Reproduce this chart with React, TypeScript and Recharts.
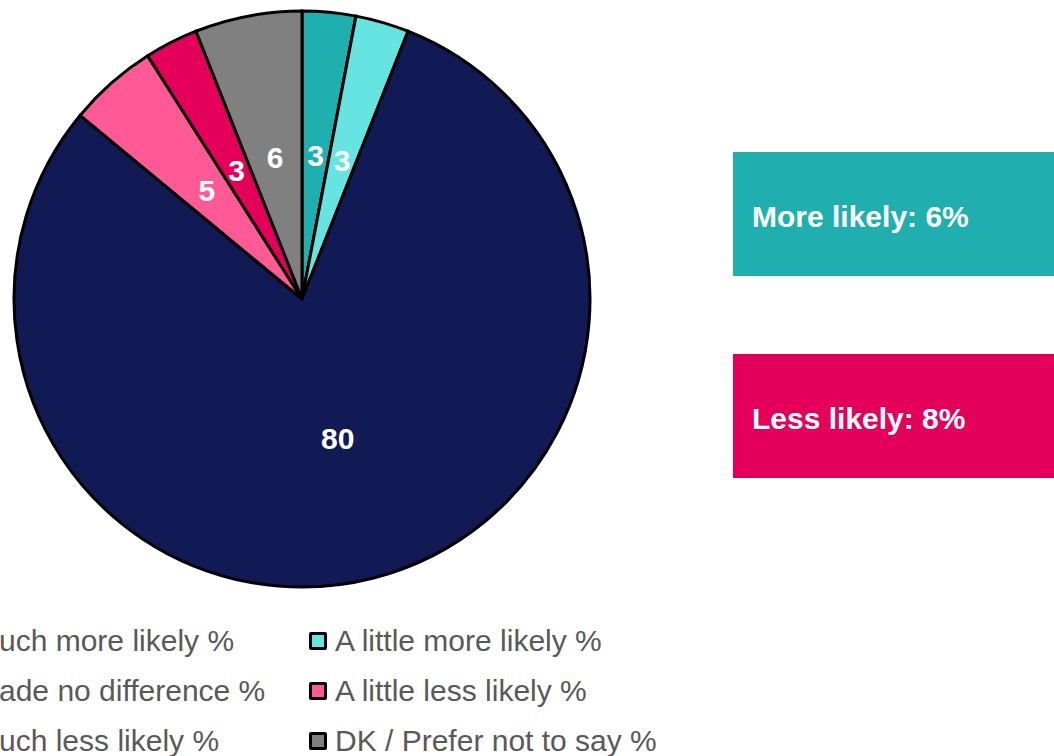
import { Cell, Legend, Pie, PieChart } from 'recharts'

const CATEGORIES = [
  'Much more likely %',
  'A little more likely %',
  'Made no difference %',
  'A little less likely %',
  'Much less likely %',
  'DK / Prefer not to say %',
]
const VALUES = [3, 3, 80, 5, 3, 6]
const COLORS = ['#1FAFAE', '#65E4E2', '#121A56', '#FF5A96', '#E4005A', '#808080']

const SUMMARY_LABELS = ['More likely: 6%', 'Less likely: 8%']
const SUMMARY_COLORS = ['#1FAFAE', '#E4005A']

const data = CATEGORIES.map((name, i) => ({ name, value: VALUES[i] }))

const FONT = '"Liberation Sans", Arial, sans-serif'
const RADIAN = Math.PI / 180

function SliceLabel(props: any) {
  const { cx, cy, midAngle, outerRadius, value } = props
  const r = outerRadius * 0.5
  const x = cx + r * Math.cos(-midAngle * RADIAN)
  const y = cy + r * Math.sin(-midAngle * RADIAN)
  return (
    <text
      x={x}
      y={y}
      fill="#fff"
      textAnchor="middle"
      dominantBaseline="central"
      fontFamily={FONT}
      fontWeight="bold"
      fontSize={30}
    >
      {value}
    </text>
  )
}

function LegendGrid() {
  return (
    <div
      style={{
        display: 'grid',
        gridTemplateColumns: '361px auto',
        fontFamily: FONT,
        fontSize: 30,
        color: '#595959',
      }}
    >
      {CATEGORIES.map((c, i) => (
        <div key={c} style={{ display: 'flex', alignItems: 'center', height: 50, whiteSpace: 'nowrap' }}>
          <span
            style={{
              width: 12,
              height: 12,
              background: COLORS[i],
              border: '3px solid #000',
              borderRadius: 2,
              marginRight: 8,
              flex: 'none',
            }}
          />
          {c}
        </div>
      ))}
    </div>
  )
}

export default function App() {
  return (
    <div
      style={{
        position: 'fixed',
        left: 0,
        top: 0,
        width: 1054,
        height: 756,
        overflow: 'hidden',
        background: '#fff',
      }}
    >
      <PieChart
        width={1054}
        height={756}
        margin={{ top: 0, right: 0, bottom: 0, left: 0 }}
        style={{ overflow: 'visible' }}
      >
        <Pie
          data={data}
          dataKey="value"
          nameKey="name"
          cx={302}
          cy={299}
          outerRadius={288}
          startAngle={90}
          endAngle={-270}
          stroke="#000"
          strokeWidth={3}
          label={SliceLabel}
          labelLine={false}
          isAnimationActive={false}
        >
          {data.map((d, i) => (
            <Cell key={d.name} fill={COLORS[i]} />
          ))}
        </Pie>
        <Legend
          content={() => <LegendGrid />}
          wrapperStyle={{ position: 'absolute', left: -52, top: 616, width: 'auto' }}
        />
      </PieChart>
      {SUMMARY_LABELS.map((t, i) => (
        <div
          key={t}
          style={{
            position: 'absolute',
            left: 733,
            top: 152 + i * 202,
            width: 340,
            height: 124,
            background: SUMMARY_COLORS[i],
            color: '#fff',
            fontFamily: FONT,
            fontWeight: 'bold',
            fontSize: 30,
            display: 'flex',
            alignItems: 'center',
            paddingLeft: 19,
            paddingTop: 5,
            boxSizing: 'border-box',
          }}
        >
          {t}
        </div>
      ))}
    </div>
  )
}
